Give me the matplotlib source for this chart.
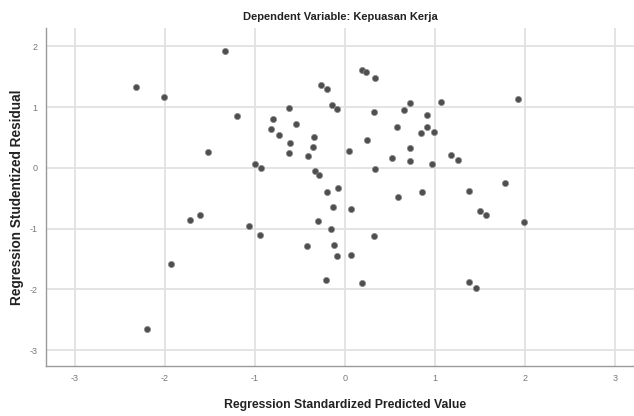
import matplotlib
matplotlib.use("Agg")
import matplotlib.pyplot as plt

# standardized predicted value (x) vs studentized residual (y)
pred = [-1.333, -2.319, -2.008, -0.626, -1.200, -0.803, -0.548, -0.819, -0.733, -0.344,
        -0.608, -0.359, -0.622, -0.411, -1.526, -1.000, -0.937, -0.337, -0.286, -0.270,
        -0.197, -0.144, -0.086, -0.197, -0.081, 0.192, 0.233, 0.333, 0.326, 0.652,
        0.722, 1.063, 1.919, 0.908, 0.574, 0.914, 0.841, 0.992, 0.241, 0.048,
        0.722, 0.519, 0.726, 0.967, 1.174, 1.252, 0.333, 0.592, 0.856, 1.381,
        1.781, -0.137, -0.297, -0.159, -0.419, -0.122, -0.086, -0.214, -1.722, -1.608,
        -1.070, -0.941, -1.937, -2.203, 0.067, 1.503, 1.570, 1.992, 0.326, 0.070,
        0.189, 1.374, 1.456]
resid = [1.929, 1.332, 1.158, 0.987, 0.845, 0.801, 0.714, 0.637, 0.538, 0.510,
         0.406, 0.345, 0.237, 0.192, 0.253, 0.061, 0.000, -0.054, -0.120, 1.355,
         1.289, 1.031, 0.961, -0.405, -0.339, 1.607, 1.579, 1.470, 0.921, 0.949,
         1.059, 1.086, 1.130, 0.867, 0.664, 0.674, 0.566, 0.592, 0.456, 0.280,
         0.319, 0.155, 0.110, 0.056, 0.214, 0.127, -0.021, -0.477, -0.395, -0.378,
         -0.257, -0.651, -0.872, -1.003, -1.283, -1.271, -1.447, -1.852, -0.860, -0.783,
         -0.964, -1.102, -1.579, -2.648, -0.674, -0.707, -0.783, -0.888, -1.123, -1.441,
         -1.901, -1.880, -1.979]

xticks = [-3, -2, -1, 0, 1, 2, 3]
yticks = [-3, -2, -1, 0, 1, 2]

plt.rcParams["font.family"] = ["Liberation Sans", "DejaVu Sans"]
plt.rcParams["axes.unicode_minus"] = False

fig = plt.figure(figsize=(6.34, 4.16), dpi=100)
ax = fig.add_axes([0.0726, 0.1202, 0.9274, 0.8125])

ax.scatter(pred, resid, s=20, facecolor="#4f4f4f", edgecolor="#8c8c8c",
           linewidth=0.5, zorder=3)

ax.set_xticks(xticks)
ax.set_yticks(yticks)
ax.set_xlim(-3.32, 3.21)
ax.set_ylim(-3.26, 2.30)
ax.grid(True, color="#e2e2e2", lw=1.3, zorder=0)
ax.tick_params(length=0, labelsize=6.5, colors="#777777", pad=6)

for side in ["top", "right"]:
    ax.spines[side].set_visible(False)
for side in ["left", "bottom"]:
    ax.spines[side].set_color("#9a9a9a")
    ax.spines[side].set_linewidth(1.0)

ax.set_xlabel("Regression Standardized Predicted Value", fontsize=8.8,
              fontweight="bold", color="#222222", labelpad=11)
ax.xaxis.label.set_x(0.508)
ax.set_ylabel("Regression Studentized Residual", fontsize=9.8,
              fontweight="bold", color="#222222", labelpad=4)
ax.set_title("Dependent Variable: Kepuasan Kerja", fontsize=8.0,
             fontweight="bold", color="#222222", pad=6)

fig.savefig("out.png", dpi=100)
